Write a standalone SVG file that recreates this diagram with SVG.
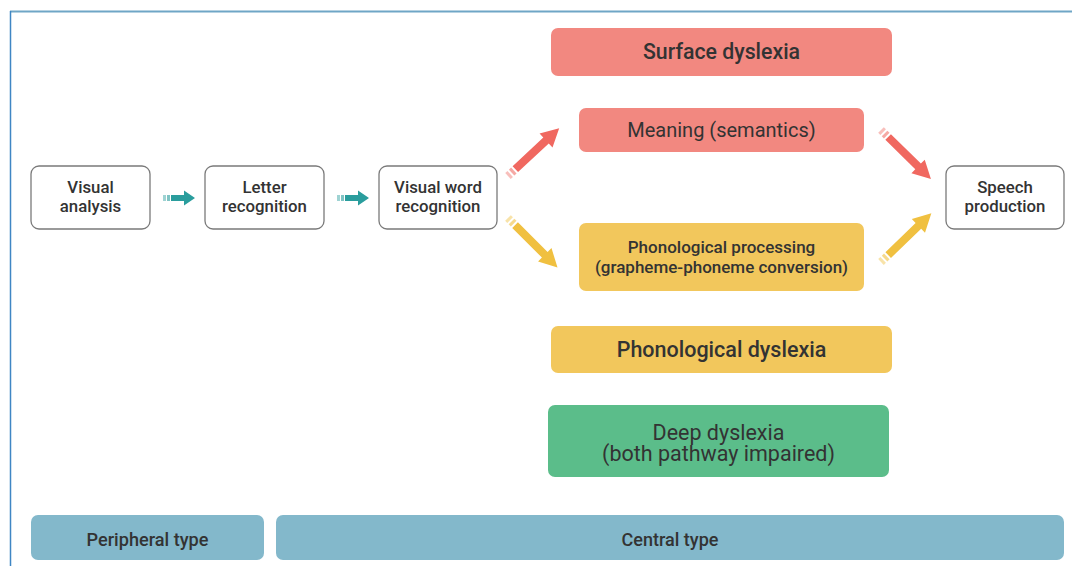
<svg xmlns="http://www.w3.org/2000/svg" width="1072" height="566" viewBox="0 0 1072 566">
<style>
text{font-family:Roboto,"Liberation Sans",sans-serif;fill:#333;text-anchor:middle}
.box{fill:#fff;stroke:#7a7a7a;stroke-width:1.3}
.t{font-size:16.8px;font-weight:500}
.red{fill:#f28880}
.yel{fill:#f2c75c}
.grn{fill:#5bbd8a}
.blu{fill:#83b8cb}
</style>
<defs>
<g id="aTeal">
<rect x="0" y="-3" width="3" height="6" fill="#2a9d9d" opacity="0.45"/>
<rect x="4" y="-3" width="3" height="6" fill="#2a9d9d" opacity="0.6"/>
<path d="M8,-3 H21 V-7.5 L32,0 L21,7.5 V3 H8 Z" fill="#2a9d9d"/>
</g>
<g id="aRed">
<rect x="0" y="-4" width="3" height="8" fill="#f07068" opacity="0.45"/>
<rect x="5" y="-4" width="3" height="8" fill="#f07068" opacity="0.6"/>
<path d="M10,-4 H52 V-9.5 L70,0 L52,9.5 V4 H10 Z" fill="#f06860"/>
</g>
<g id="aYel">
<rect x="0" y="-4" width="3" height="8" fill="#f0c040" opacity="0.45"/>
<rect x="5" y="-4" width="3" height="8" fill="#f0c040" opacity="0.6"/>
<path d="M10,-4 H52 V-9.5 L70,0 L52,9.5 V4 H10 Z" fill="#f0c040"/>
</g>
</defs>
<rect width="1072" height="566" fill="#fff"/>
<g id="frame">
<line x1="10" y1="11.5" x2="1072" y2="11.5" stroke="#6fa6c6" stroke-width="2"/>
<line x1="10.5" y1="11" x2="10.5" y2="566" stroke="#3f86c4" stroke-width="1.5"/>
</g>
<g id="connectors">
<use href="#aTeal" transform="translate(163,198)"/>
<use href="#aTeal" transform="translate(337,198)"/>
<use href="#aRed" transform="translate(508,176) rotate(-43)"/>
<use href="#aYel" transform="translate(508,218) rotate(45)"/>
<use href="#aRed" transform="translate(881,130) rotate(44.5)"/>
<use href="#aYel" transform="translate(881,262) rotate(-44)"/>
</g>
<g id="visual-analysis">
<rect class="box" x="31" y="166" width="119" height="63" rx="8"/>
<text class="t" x="90.5" y="193">Visual</text>
<text class="t" x="90.5" y="212">analysis</text>
</g>
<g id="letter-recognition">
<rect class="box" x="205" y="166" width="119" height="63" rx="8"/>
<text class="t" x="264.5" y="193">Letter</text>
<text class="t" x="264.5" y="212">recognition</text>
</g>
<g id="visual-word-recognition">
<rect class="box" x="379" y="166" width="118" height="63" rx="8"/>
<text class="t" x="438" y="193">Visual word</text>
<text class="t" x="438" y="212">recognition</text>
</g>
<g id="speech-production">
<rect class="box" x="946" y="166" width="118" height="63" rx="8"/>
<text class="t" x="1005" y="193">Speech</text>
<text class="t" x="1005" y="212">production</text>
</g>
<g id="surface-dyslexia">
<rect class="red" x="551" y="28" width="341" height="48" rx="7"/>
<text x="721.5" y="59" font-size="21.3" font-weight="500">Surface dyslexia</text>
</g>
<g id="meaning">
<rect class="red" x="579" y="108" width="285" height="44" rx="7"/>
<text x="721.5" y="137" font-size="20">Meaning (semantics)</text>
</g>
<g id="phonological-processing">
<rect class="yel" x="579" y="223" width="285" height="68" rx="7"/>
<text x="721.5" y="253" font-size="17" font-weight="500">Phonological processing</text>
<text x="721.5" y="273" font-size="17" font-weight="500">(grapheme-phoneme conversion)</text>
</g>
<g id="phonological-dyslexia">
<rect class="yel" x="551" y="326" width="341" height="47" rx="7"/>
<text x="721.5" y="357" font-size="21.5" font-weight="500">Phonological dyslexia</text>
</g>
<g id="deep-dyslexia">
<rect class="grn" x="548" y="405" width="341" height="72" rx="7"/>
<text x="718.5" y="440" font-size="21.5">Deep dyslexia</text>
<text x="718.5" y="461" font-size="21.5">(both pathway impaired)</text>
</g>
<g id="peripheral-type">
<rect class="blu" x="31" y="515" width="233" height="45" rx="7"/>
<text x="147.5" y="546" font-size="19" font-weight="500" textLength="122" lengthAdjust="spacingAndGlyphs">Peripheral type</text>
</g>
<g id="central-type">
<rect class="blu" x="276" y="515" width="788" height="45" rx="7"/>
<text x="670" y="546" font-size="19" font-weight="500" textLength="97" lengthAdjust="spacingAndGlyphs">Central type</text>
</g>
</svg>
